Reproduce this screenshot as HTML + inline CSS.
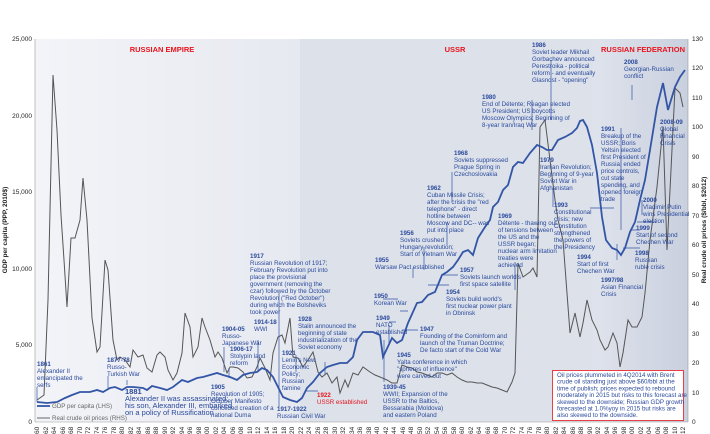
<!DOCTYPE html><html><head><meta charset="utf-8"><style>
html,body{margin:0;padding:0;background:#fff;width:710px;height:434px;overflow:hidden}
svg{display:block;font-family:"Liberation Sans",sans-serif}
.a{fill:#2b4a9c;font-size:6.2px}
.a tspan.h{font-weight:bold}
.t{fill:#222;font-size:6.5px}
</style></head><body>
<svg width="710" height="434" viewBox="0 0 710 434" xmlns="http://www.w3.org/2000/svg">
<defs><linearGradient id="rf" x1="0" x2="1"><stop offset="0" stop-color="#dfe3ec"/><stop offset="1" stop-color="#c9d0de"/></linearGradient>
<linearGradient id="re" x1="0" x2="1"><stop offset="0" stop-color="#f3f4f8"/><stop offset="1" stop-color="#e6e9f0"/></linearGradient></defs>
<rect x="35" y="39" width="265" height="383" fill="url(#re)"/>
<rect x="300" y="39" width="293" height="383" fill="#dce1ea"/>
<rect x="593" y="39" width="95" height="383" fill="url(#rf)"/>
<line x1="35" y1="39" x2="35" y2="422" stroke="#999" stroke-width="0.6"/>
<line x1="688" y1="39" x2="688" y2="422" stroke="#999" stroke-width="0.6"/>
<line x1="35" y1="422" x2="688" y2="422" stroke="#999" stroke-width="0.6"/>
<g class="t" text-anchor="end">
<text x="32" y="41">25,000</text><text x="32" y="118">20,000</text><text x="32" y="194">15,000</text><text x="32" y="271">10,000</text><text x="32" y="347">5,000</text><text x="32" y="424">0</text></g>
<g class="t">
<text x="692" y="41">130</text><text x="692" y="70">120</text><text x="692" y="100">110</text><text x="692" y="129">100</text><text x="692" y="159">90</text><text x="692" y="188">80</text><text x="692" y="218">70</text><text x="692" y="247">60</text><text x="692" y="277">50</text><text x="692" y="306">40</text><text x="692" y="336">30</text><text x="692" y="365">20</text><text x="692" y="395">10</text><text x="692" y="424">0</text></g>
<text class="t" font-weight="bold" font-size="6" transform="translate(7,230) rotate(-90)" text-anchor="middle">GDP per capita (PPP, 2010$)</text>
<text class="t" font-weight="bold" font-size="6" transform="translate(706,230) rotate(-90)" text-anchor="middle">Real crude oil prices ($/bbl, $2012)</text>
<g font-weight="bold" font-size="7.5" fill="#e8141c" text-anchor="middle">
<text x="162" y="52">RUSSIAN EMPIRE</text><text x="455" y="52">USSR</text><text x="643" y="52">RUSSIAN FEDERATION</text></g>
<polyline fill="none" stroke="#555" stroke-width="1" points="37,400 44,395 48,300 53,75 57,130 61,215 64,260 67,307 71,238 75,238 80,220 83,178 87,220 92,318 97,352 100,347 105,260 108,270 113,340 117,360 120,357 125,360 130,367 133,350 138,357 143,355 147,368 152,372 157,355 160,352 165,357 168,370 173,380 177,373 182,353 185,313 190,327 193,357 198,347 202,318 205,327 210,340 215,357 218,352 222,358 227,373 230,367 233,367 238,368 243,372 247,378 252,377 257,367 260,358 265,368 270,380 273,353 278,337 282,335 285,343 290,318 293,357 298,358 303,367 308,360 313,352 318,372 322,377 327,373 332,383 337,377 340,393 345,380 348,387 353,373 358,375 363,367 370,372 375,375 380,377 387,380 392,383 397,383 402,365 407,367 412,368 417,372 422,373 427,375 432,377 437,373 442,373 447,375 452,373 457,377 462,380 467,382 472,382 477,383 482,383 487,385 492,387 497,388 502,390 507,392 512,382 515,373 518,263 523,277 530,272 533,268 537,277 540,127 545,120 550,160 555,200 558,220 563,240 570,333 575,313 580,337 583,323 587,300 592,320 597,330 600,340 605,350 608,347 613,333 617,343 620,367 623,353 628,320 632,327 637,327 642,317 645,293 650,240 657,187 663,127 667,250 671,170 675,88 680,93 683,107"/>
<polyline fill="none" stroke="#3355a6" stroke-width="1.8" points="37,402 47,403 57,402 65,398 72,395 80,392 90,392 97,390 103,392 110,388 115,387 122,390 127,387 133,387 143,388 147,390 152,386 160,388 167,390 173,387 182,380 188,382 197,378 203,377 210,375 217,373 223,375 230,377 237,380 243,375 250,373 257,372 262,368 267,370 273,377 278,387 283,397 290,400 297,402 302,398 307,388 313,382 320,373 327,367 333,365 340,363 347,363 353,357 357,340 363,332 373,332 380,335 383,357 392,338 397,343 402,340 408,323 417,303 422,302 428,295 435,292 442,275 447,272 453,267 458,260 463,252 468,250 473,255 478,238 485,227 490,220 493,207 498,202 503,190 508,185 513,167 518,162 523,163 530,153 537,145 542,147 547,150 552,150 558,140 565,137 572,133 577,128 580,121 583,120 587,127 592,145 597,173 602,217 606,240 612,248 617,250 621,255 625,248 630,232 635,222 640,200 645,180 650,150 657,107 663,83 668,110 675,87 680,77 685,70"/>
<line x1="37" y1="406" x2="50" y2="406" stroke="#3355a6" stroke-width="1.8"/><text class="a" x="52" y="408" style="fill:#666">GDP per capita (LHS)</text>
<line x1="37" y1="418" x2="50" y2="418" stroke="#666" stroke-width="1"/><text class="a" x="52" y="420" style="fill:#666">Real crude oil prices (RHS)</text>
<g stroke="#3355a6" stroke-width="0.7" fill="none">
<path d="M37 387V402M108 376V388M127 380V385M224 347V372M229 368V378M258 340V370M279 293V407M296 355V372M325 375V362M318 391H306M384 340V382M389 325V345M389 322H396M408 311H400M418 330H402M383 299H398M449 285H428M413 268V278M458 275H442M424 247V270M447 222V245M452 172V202M515 262V290M532 100V130M551 60V120M553 188V207M621 128V230M614 208H590M617 244V260M640 248H623M640 230H630M656 222H637M642 200V215M662 130V140M632 85V100"/></g>
<g class="a">
<text x="37" y="366"><tspan class="h">1861</tspan><tspan x="37" dy="7">Alexander II</tspan><tspan x="37" dy="7">emancipated the</tspan><tspan x="37" dy="7">serfs</tspan></text>
<text x="107" y="362"><tspan class="h">1877-78</tspan><tspan x="107" dy="7">Russo-</tspan><tspan x="107" dy="7">Turkish War</tspan></text>
<text x="125" y="394" font-size="7.5"><tspan class="h">1881</tspan><tspan x="125" dy="7">Alexander II was assassinated;</tspan><tspan x="125" dy="7">his son, Alexander III, embarked</tspan><tspan x="125" dy="7">on a policy of Russification</tspan></text>
<text x="222" y="331"><tspan class="h">1904-05</tspan><tspan x="222" dy="7">Russo-</tspan><tspan x="222" dy="7">Japanese War</tspan></text>
<text x="230" y="351"><tspan class="h">1906-17</tspan><tspan x="230" dy="7">Stolypin land</tspan><tspan x="230" dy="7">reform</tspan></text>
<text x="211" y="389"><tspan class="h">1905</tspan><tspan x="211" dy="7">Revolution of 1905;</tspan><tspan x="211" dy="7">October Manifesto</tspan><tspan x="211" dy="7">conceded creation of a</tspan><tspan x="211" dy="7">national Duma</tspan></text>
<text x="254" y="324"><tspan class="h">1914-18</tspan><tspan x="254" dy="7">WWI</tspan></text>
<text x="250" y="258"><tspan class="h">1917</tspan><tspan x="250" dy="7">Russian Revolution of 1917;</tspan><tspan x="250" dy="7">February Revolution put into</tspan><tspan x="250" dy="7">place the provisional</tspan><tspan x="250" dy="7">government (removing the</tspan><tspan x="250" dy="7">czar) followed by the October</tspan><tspan x="250" dy="7">Revolution ("Red October")</tspan><tspan x="250" dy="7">during which the Bolsheviks</tspan><tspan x="250" dy="7">took power</tspan></text>
<text x="298" y="321"><tspan class="h">1928</tspan><tspan x="298" dy="7">Stalin announced the</tspan><tspan x="298" dy="7">beginning of state</tspan><tspan x="298" dy="7">industrialization of the</tspan><tspan x="298" dy="7">Soviet economy</tspan></text>
<text x="282" y="355"><tspan class="h">1921</tspan><tspan x="282" dy="7">Lenin's New</tspan><tspan x="282" dy="7">Economic</tspan><tspan x="282" dy="7">Policy;</tspan><tspan x="282" dy="7">Russian</tspan><tspan x="282" dy="7">famine</tspan></text>
<text x="277" y="411"><tspan class="h">1917-1922</tspan><tspan x="277" dy="7">Russian Civil War</tspan></text>
<text x="317" y="397" style="fill:#e8141c"><tspan class="h">1922</tspan><tspan x="317" dy="7">USSR established</tspan></text>
<text x="383" y="389"><tspan class="h">1939-45</tspan><tspan x="383" dy="7">WWII; Expansion of the</tspan><tspan x="383" dy="7">USSR to the Baltics,</tspan><tspan x="383" dy="7">Bessarabia (Moldova)</tspan><tspan x="383" dy="7">and eastern Poland</tspan></text>
<text x="397" y="357"><tspan class="h">1945</tspan><tspan x="397" dy="7">Yalta conference in which</tspan><tspan x="397" dy="7">"spheres of influence"</tspan><tspan x="397" dy="7">were carved out</tspan></text>
<text x="420" y="331"><tspan class="h">1947</tspan><tspan x="420" dy="7">Founding of the Cominform and</tspan><tspan x="420" dy="7">launch of the Truman Doctrine;</tspan><tspan x="420" dy="7">De facto start of the Cold War</tspan></text>
<text x="376" y="320"><tspan class="h">1949</tspan><tspan x="376" dy="7">NATO</tspan><tspan x="376" dy="7">established</tspan></text>
<text x="374" y="298"><tspan class="h">1950</tspan><tspan x="374" dy="7">Korean War</tspan></text>
<text x="446" y="294"><tspan class="h">1954</tspan><tspan x="446" dy="7">Soviets build world's</tspan><tspan x="446" dy="7">first nuclear power plant</tspan><tspan x="446" dy="7">in Obninsk</tspan></text>
<text x="375" y="262"><tspan class="h">1955</tspan><tspan x="375" dy="7">Warsaw Pact established</tspan></text>
<text x="460" y="272"><tspan class="h">1957</tspan><tspan x="460" dy="7">Soviets launch world's</tspan><tspan x="460" dy="7">first space satellite</tspan></text>
<text x="400" y="235"><tspan class="h">1956</tspan><tspan x="400" dy="7">Soviets crushed</tspan><tspan x="400" dy="7">Hungary revolution;</tspan><tspan x="400" dy="7">Start of Vietnam War</tspan></text>
<text x="427" y="190"><tspan class="h">1962</tspan><tspan x="427" dy="7">Cuban Missile Crisis;</tspan><tspan x="427" dy="7">after the crisis the "red</tspan><tspan x="427" dy="7">telephone" - direct</tspan><tspan x="427" dy="7">hotline between</tspan><tspan x="427" dy="7">Moscow and DC-- was</tspan><tspan x="427" dy="7">put into place</tspan></text>
<text x="454" y="155"><tspan class="h">1968</tspan><tspan x="454" dy="7">Soviets suppressed</tspan><tspan x="454" dy="7">Prague Spring in</tspan><tspan x="454" dy="7">Czechoslovakia</tspan></text>
<text x="498" y="218"><tspan class="h">1969</tspan><tspan x="498" dy="7">Détente - thawing out</tspan><tspan x="498" dy="7">of tensions between</tspan><tspan x="498" dy="7">the US and the</tspan><tspan x="498" dy="7">USSR began;</tspan><tspan x="498" dy="7">nuclear arm limitation</tspan><tspan x="498" dy="7">treaties were</tspan><tspan x="498" dy="7">achieved</tspan></text>
<text x="482" y="99"><tspan class="h">1980</tspan><tspan x="482" dy="7">End of Détente; Reagan elected</tspan><tspan x="482" dy="7">US President; US boycotts</tspan><tspan x="482" dy="7">Moscow Olympics; Beginning of</tspan><tspan x="482" dy="7">8-year Iran/Iraq War</tspan></text>
<text x="532" y="47"><tspan class="h">1986</tspan><tspan x="532" dy="7">Soviet leader Mikhail</tspan><tspan x="532" dy="7">Gorbachev announced</tspan><tspan x="532" dy="7">Perestroika - political</tspan><tspan x="532" dy="7">reform - and eventually</tspan><tspan x="532" dy="7">Glasnost - "opening"</tspan></text>
<text x="540" y="162"><tspan class="h">1979</tspan><tspan x="540" dy="7">Iranian Revolution;</tspan><tspan x="540" dy="7">Beginning of 9-year</tspan><tspan x="540" dy="7">Soviet War in</tspan><tspan x="540" dy="7">Afghanistan</tspan></text>
<text x="601" y="131"><tspan class="h">1991</tspan><tspan x="601" dy="7">Breakup of the</tspan><tspan x="601" dy="7">USSR; Boris</tspan><tspan x="601" dy="7">Yeltsin elected</tspan><tspan x="601" dy="7">first President of</tspan><tspan x="601" dy="7">Russia; ended</tspan><tspan x="601" dy="7">price controls,</tspan><tspan x="601" dy="7">cut state</tspan><tspan x="601" dy="7">spending, and</tspan><tspan x="601" dy="7">opened foreign</tspan><tspan x="601" dy="7">trade</tspan></text>
<text x="554" y="207"><tspan class="h">1993</tspan><tspan x="554" dy="7">Constitutional</tspan><tspan x="554" dy="7">crisis; new</tspan><tspan x="554" dy="7">Constitution</tspan><tspan x="554" dy="7">strengthened</tspan><tspan x="554" dy="7">the powers of</tspan><tspan x="554" dy="7">the Presidency</tspan></text>
<text x="577" y="259"><tspan class="h">1994</tspan><tspan x="577" dy="7">Start of first</tspan><tspan x="577" dy="7">Chechen War</tspan></text>
<text x="601" y="282"><tspan class="h">1997/98</tspan><tspan x="601" dy="7">Asian Financial</tspan><tspan x="601" dy="7">Crisis</tspan></text>
<text x="635" y="255"><tspan class="h">1998</tspan><tspan x="635" dy="7">Russian</tspan><tspan x="635" dy="7">ruble crisis</tspan></text>
<text x="636" y="230"><tspan class="h">1999</tspan><tspan x="636" dy="7">Start of second</tspan><tspan x="636" dy="7">Chechen War</tspan></text>
<text x="643" y="202"><tspan class="h">2000</tspan><tspan x="643" dy="7">Vladimir Putin</tspan><tspan x="643" dy="7">wins Presidential</tspan><tspan x="643" dy="7">election</tspan></text>
<text x="660" y="124"><tspan class="h">2008-09</tspan><tspan x="660" dy="7">Global</tspan><tspan x="660" dy="7">Financial</tspan><tspan x="660" dy="7">Crisis</tspan></text>
<text x="624" y="64"><tspan class="h">2008</tspan><tspan x="624" dy="7">Georgian-Russian</tspan><tspan x="624" dy="7">conflict</tspan></text>
</g>
<rect x="552.5" y="370.5" width="131" height="50" fill="#fff" stroke="#e8141c" stroke-width="0.8"/>
<g class="a" font-size="5.9"><text x="557" y="377"><tspan>Oil prices plummeted in 4Q2014 with Brent</tspan><tspan x="557" dy="6.7">crude oil standing just above $60/bbl at the</tspan><tspan x="557" dy="6.7">time of publish; prices expected to rebound</tspan><tspan x="557" dy="6.7">moderately in 2015 but risks to this forecast are</tspan><tspan x="557" dy="6.7">skewed to the downside; Russian GDP growth</tspan><tspan x="557" dy="6.7">forecasted at 1.0%yoy in 2015 but risks are</tspan><tspan x="557" dy="6.7">also skewed to the downside.</tspan></text></g>
<g class="t" font-size="5.5">
<text transform="translate(39,434) rotate(-90)">60</text><text transform="translate(48,434) rotate(-90)">62</text><text transform="translate(56,434) rotate(-90)">64</text><text transform="translate(65,434) rotate(-90)">66</text><text transform="translate(73,434) rotate(-90)">68</text><text transform="translate(82,434) rotate(-90)">70</text><text transform="translate(90,434) rotate(-90)">72</text><text transform="translate(99,434) rotate(-90)">74</text><text transform="translate(107,434) rotate(-90)">76</text><text transform="translate(116,434) rotate(-90)">78</text><text transform="translate(124,434) rotate(-90)">80</text><text transform="translate(133,434) rotate(-90)">82</text><text transform="translate(141,434) rotate(-90)">84</text><text transform="translate(150,434) rotate(-90)">86</text><text transform="translate(158,434) rotate(-90)">88</text><text transform="translate(167,434) rotate(-90)">90</text><text transform="translate(175,434) rotate(-90)">92</text><text transform="translate(184,434) rotate(-90)">94</text><text transform="translate(192,434) rotate(-90)">96</text><text transform="translate(201,434) rotate(-90)">98</text><text transform="translate(209,434) rotate(-90)">00</text><text transform="translate(218,434) rotate(-90)">02</text><text transform="translate(226,434) rotate(-90)">04</text><text transform="translate(235,434) rotate(-90)">06</text><text transform="translate(243,434) rotate(-90)">08</text><text transform="translate(252,434) rotate(-90)">10</text><text transform="translate(260,434) rotate(-90)">12</text><text transform="translate(269,434) rotate(-90)">14</text><text transform="translate(277,434) rotate(-90)">16</text><text transform="translate(286,434) rotate(-90)">18</text><text transform="translate(294,434) rotate(-90)">20</text><text transform="translate(303,434) rotate(-90)">22</text><text transform="translate(311,434) rotate(-90)">24</text><text transform="translate(320,434) rotate(-90)">26</text><text transform="translate(328,434) rotate(-90)">28</text><text transform="translate(337,434) rotate(-90)">30</text><text transform="translate(345,434) rotate(-90)">32</text><text transform="translate(354,434) rotate(-90)">34</text><text transform="translate(362,434) rotate(-90)">36</text><text transform="translate(371,434) rotate(-90)">38</text><text transform="translate(379,434) rotate(-90)">40</text><text transform="translate(388,434) rotate(-90)">42</text><text transform="translate(396,434) rotate(-90)">44</text><text transform="translate(405,434) rotate(-90)">46</text><text transform="translate(413,434) rotate(-90)">48</text><text transform="translate(422,434) rotate(-90)">50</text><text transform="translate(430,434) rotate(-90)">52</text><text transform="translate(439,434) rotate(-90)">54</text><text transform="translate(447,434) rotate(-90)">56</text><text transform="translate(456,434) rotate(-90)">58</text><text transform="translate(464,434) rotate(-90)">60</text><text transform="translate(473,434) rotate(-90)">62</text><text transform="translate(481,434) rotate(-90)">64</text><text transform="translate(490,434) rotate(-90)">66</text><text transform="translate(498,434) rotate(-90)">68</text><text transform="translate(507,434) rotate(-90)">70</text><text transform="translate(515,434) rotate(-90)">72</text><text transform="translate(524,434) rotate(-90)">74</text><text transform="translate(532,434) rotate(-90)">76</text><text transform="translate(541,434) rotate(-90)">78</text><text transform="translate(549,434) rotate(-90)">80</text><text transform="translate(558,434) rotate(-90)">82</text><text transform="translate(566,434) rotate(-90)">84</text><text transform="translate(575,434) rotate(-90)">86</text><text transform="translate(583,434) rotate(-90)">88</text><text transform="translate(592,434) rotate(-90)">90</text><text transform="translate(600,434) rotate(-90)">92</text><text transform="translate(609,434) rotate(-90)">94</text><text transform="translate(617,434) rotate(-90)">96</text><text transform="translate(626,434) rotate(-90)">98</text><text transform="translate(634,434) rotate(-90)">00</text><text transform="translate(643,434) rotate(-90)">02</text><text transform="translate(651,434) rotate(-90)">04</text><text transform="translate(660,434) rotate(-90)">06</text><text transform="translate(668,434) rotate(-90)">08</text><text transform="translate(677,434) rotate(-90)">10</text><text transform="translate(685,434) rotate(-90)">12</text>
</g>
</svg>
</body></html>
